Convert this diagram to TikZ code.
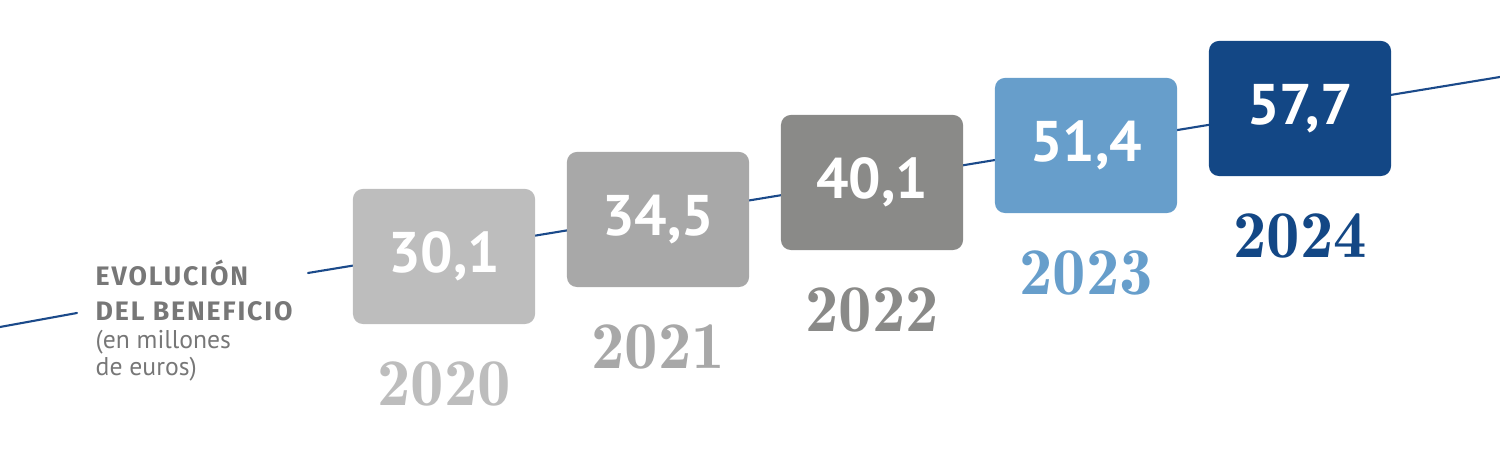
\documentclass[tikz,border=0pt]{standalone}
\usepackage{fontspec}
\usetikzlibrary{positioning}
\newfontfamily\valfont{PT Sans}
\newfontfamily\capfont[LetterSpace=7]{Fira Sans}
\newfontfamily\yearfont{Latin Modern Roman Demi}
\definecolor{c2020}{HTML}{BDBDBD}
\definecolor{c2021}{HTML}{A8A8A8}
\definecolor{c2022}{HTML}{8A8A88}
\definecolor{c2023}{HTML}{679ECB}
\definecolor{c2024}{HTML}{134785}
\definecolor{trend}{HTML}{1B4A8A}
\definecolor{labelgray}{HTML}{777777}
\begin{document}
\begin{tikzpicture}[x=0.01cm,y=0.01cm,line join=round,line cap=round,
	box/.style={rounded corners=0.1cm,minimum width=1.82cm,minimum height=1.35cm,inner sep=0pt,
		text=white,font=\valfont\bfseries\fontsize{16.3}{20}\selectfont},
	year/.style={inner sep=0pt,font=\yearfont\fontsize{19}{22}\selectfont}]
				\useasboundingbox (0,0) rectangle (1500,462);
				% trend line, with a gap for the label
				\coordinate (l0) at (0,135); \coordinate (l1) at (77,149);
				\coordinate (l2) at (308,189); \coordinate (l3) at (1500,385);
				\draw[trend, line width=0.6pt] (l0) -- (l1) (l2) -- (l3);
				\node[anchor=north west,inner sep=0pt,align=left,text=labelgray,
					font=\valfont\fontsize{7.3}{7.9}\selectfont] (title) at (95,203)
					{{\capfont\bfseries\fontsize{7.6}{8}\selectfont EVOLUCIÓN}\\[2.1pt]{\capfont\bfseries\fontsize{7.6}{8}\selectfont DEL BENEFICIO}\\(en millones\\de euros)};
				\foreach \i/\val/\yr in {0/{30,1}/2020,1/{34,5}/2021,2/{40,1}/2022,3/{51,4}/2023,4/{57,7}/2024} {
					\node[box, fill=c\yr] (b\yr) at (444+214*\i, 205.5+37*\i) {\val};
					\node[year, text=c\yr, below=0.36cm of b\yr] (y\yr) {\yr};
				}
			\end{tikzpicture}
\end{document}
